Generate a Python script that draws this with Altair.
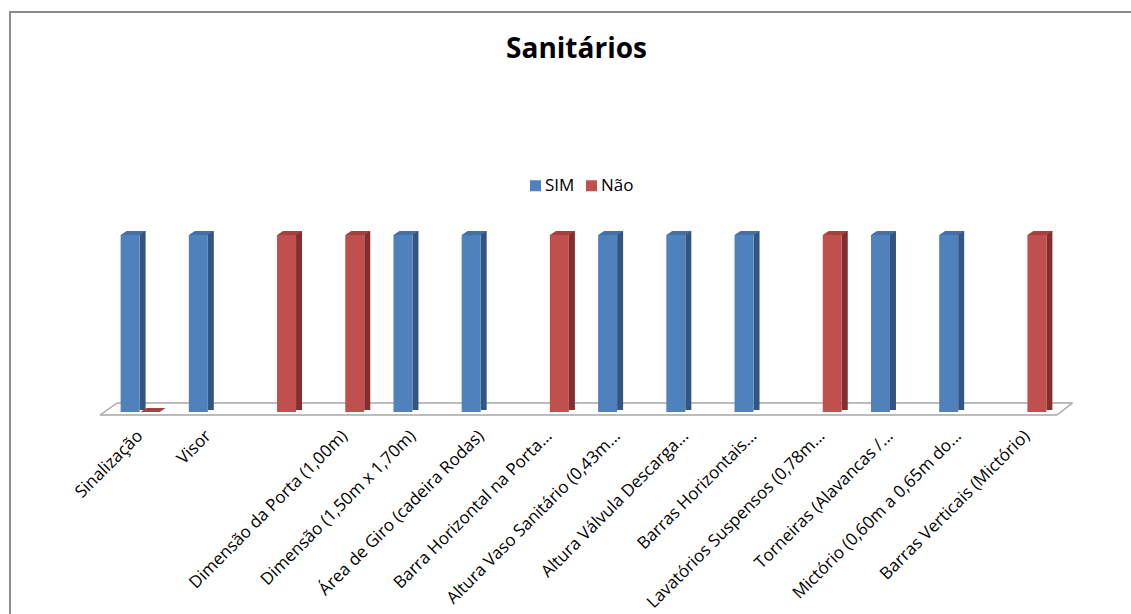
import altair as alt
import pandas as pd

categories = [
    "Sinalização", "Visor", " ", "Dimensão da Porta (1,00m)",
    "Dimensão (1,50m x 1,70m)", "Área de Giro (cadeira Rodas)",
    "Barra Horizontal na Porta...", "Altura Vaso Sanitário (0,43m...",
    "Altura Válvula Descarga...", "Barras Horizontais...",
    "Lavatórios Suspensos (0,78m...", "Torneiras (Alavancas /...",
    "Mictório (0,60m a 0,65m do...", "Barras Verticais (Mictório)",
]
sim_values = [1, 1, None, None, 1, 1, None, 1, 1, 1, None, 1, 1, None]
nao_values = [0, None, 1, 1, None, None, 1, None, None, None, 1, None, None, 1]
series_names = ["SIM", "Não"]

rows = []
for cat, s, n in zip(categories, sim_values, nao_values):
    if s is not None:
        rows.append({"category": cat, "series": "SIM", "value": s})
    if n is not None:
        rows.append({"category": cat, "series": "Não", "value": n})
df = pd.DataFrame(rows)

FONT = "Open Sans"
front_col = {"SIM": "#4F81BD", "Não": "#C0504D"}
side_col = {"SIM": "#34557F", "Não": "#82302E"}
top_col = {"SIM": "#4470A6", "Não": "#A8413E"}
front_off = {"SIM": -10, "Não": 10}

X = alt.X("category:N", sort=categories,
          scale=alt.Scale(domain=categories, paddingInner=0, paddingOuter=0),
          axis=alt.Axis(title=None, labelAngle=-45, labelAlign="right",
                        labelBaseline="middle", labelPadding=21,
                        labelFontSize=17, labelFont=FONT, labelColor="#000000",
                        labelLimit=400, labelOverlap=False,
                        domain=False, ticks=False, grid=False))
Y = alt.Y("value:Q", scale=alt.Scale(domain=[0, 1], nice=False), axis=None)

one = pd.DataFrame({"k": [0]})
border_col = "#8C8C8C"
border = [
    alt.Chart(one).mark_rule(color=border_col, strokeWidth=2).encode(
        x=alt.value(-96), x2=alt.value(1030), y=alt.value(-223), y2=alt.value(-223)),
    alt.Chart(one).mark_rule(color=border_col, strokeWidth=2).encode(
        x=alt.value(-96), x2=alt.value(-96), y=alt.value(-224), y2=alt.value(385)),
]
floor_col = "#A6A6A6"
floor = [
    alt.Chart(one).mark_rule(color=floor_col, strokeWidth=1.5).encode(
        x=alt.value(11), x2=alt.value(966.5), y=alt.value(168), y2=alt.value(168)),
    alt.Chart(one).mark_rule(color=floor_col, strokeWidth=1.5).encode(
        x=alt.value(-6), x2=alt.value(951), y=alt.value(180), y2=alt.value(180)),
    alt.Chart(one).mark_rule(color=floor_col, strokeWidth=1.5).encode(
        x=alt.value(-6), x2=alt.value(11), y=alt.value(180), y2=alt.value(168)),
    alt.Chart(one).mark_rule(color=floor_col, strokeWidth=1.5).encode(
        x=alt.value(951), x2=alt.value(966.5), y=alt.value(180), y2=alt.value(168)),
]

top_shape = "M-1,0.16L0.52,0.16L1,-0.16L-0.52,-0.16Z"

layers = border + floor
for s in series_names:
    base = alt.Chart(df).transform_filter(alt.datum.series == s)
    off = front_off[s]
    side = base.transform_filter(alt.datum.value > 0).mark_bar(
        size=6, xOffset=off + 12.5, yOffset=-4, y2Offset=-2, color=side_col[s]
    ).encode(x=X, y=Y, y2=alt.datum(0))
    front = base.mark_bar(size=19, xOffset=off).encode(
        x=X, y=Y,
        color=alt.Color("series:N",
                        scale=alt.Scale(domain=series_names,
                                        range=[front_col["SIM"], front_col["Não"]]),
                        legend=alt.Legend(title=None, orient="none", direction="horizontal",
                                          legendX=421, legendY=-58, symbolType="square",
                                          symbolSize=121, symbolStrokeWidth=0,
                                          labelFont=FONT, labelFontSize=17,
                                          labelColor="#000000", labelOffset=1,
                                          columnPadding=8, padding=0)))
    top = base.mark_point(shape=top_shape, size=625, filled=True, opacity=1,
                          strokeWidth=0, color=top_col[s], xOffset=off + 3,
                          yOffset=-2).encode(x=X, y=Y)
    layers += [side, front, top]

chart = alt.layer(*layers).properties(
    width=955, height=177,
    padding={"left": 106, "top": 235, "right": 70, "bottom": 202},
    autosize=alt.AutoSizeParams(type="none"),
    background="white",
    title=alt.TitleParams("Sanitários", font=FONT, fontSize=28, fontWeight="bold",
                          color="#000000", anchor="middle", offset=0, dx=-7, dy=54),
).configure_view(stroke="transparent", strokeWidth=0)

chart.save("out.html", embed_options={"renderer": "svg", "actions": False})
